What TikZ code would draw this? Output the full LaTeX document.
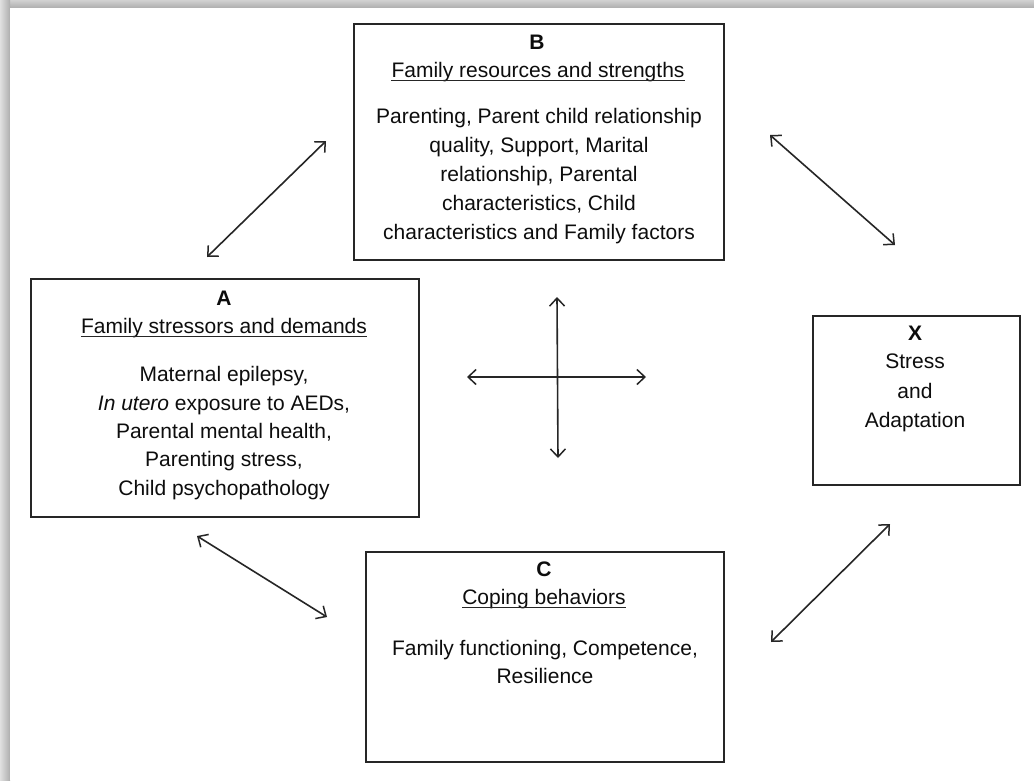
\documentclass[tikz,border=0pt]{standalone}
\usepackage{fontspec}
\setmainfont{Liberation Sans}
\usetikzlibrary{arrows.meta}
\tikzset{
  box/.style={draw=black!85, line width=1.8pt, inner sep=0pt, anchor=north west},
  txt/.style={inner sep=0pt, align=center, text=black!95, font=\fontsize{21}{29}\selectfont},
  ttl/.style={inner sep=0pt, text=black!95, font=\fontsize{21}{29}\selectfont\bfseries},
  hd/.style={inner sep=0pt, text=black!95, font=\fontsize{21}{29}\selectfont},
  ul/.style={line width=1.1pt, draw=black!85},
  link/.style={line width=1.6pt, draw=black!85, {Straight Barb[length=8pt,width=15pt,line width=1.5pt]}-{Straight Barb[length=8pt,width=15pt,line width=1.5pt]}}
}
\begin{document}
\begin{tikzpicture}[x=1pt,y=-1pt]
\useasboundingbox (0,0) rectangle (1034,780);
\fill[white] (0,0) rectangle (1034,780);
% page shadow
\shade[top color=black!18, bottom color=black!32] (0,0) rectangle (1034,8);
\shade[left color=black!12, right color=black!32] (0,0) rectangle (10,780);
\fill[white] (10,8) rectangle (1034,780);

% boxes
\node[box, minimum width=370pt, minimum height=236pt] (B) at (353,23) {};
\node[box, minimum width=388pt, minimum height=238pt] (A) at (30,278) {};
\node[box, minimum width=207pt, minimum height=169pt] (X) at (812,315) {};
\node[box, minimum width=358pt, minimum height=210pt] (C) at (365,551) {};

% B texts
\node[ttl] (Bt) at (537,42) {B};
\node[hd] (Bh) at (538,72) {Family resources and strengths};
\draw[ul] ([yshift=-3pt]Bh.base west) -- ([yshift=-3pt]Bh.base east);
\node[txt] (Bb) at (539,176) {Parenting, Parent child relationship\\quality, Support, Marital\\relationship, Parental\\characteristics, Child\\characteristics and Family factors};

% A texts
\node[ttl] (At) at (224,298) {A};
\node[hd] (Ah) at (224,328) {Family stressors and demands};
\draw[ul] ([yshift=-3pt]Ah.base west) -- ([yshift=-3pt]Ah.base east);
\node[txt, font=\fontsize{21}{28.3}\selectfont] (Ab) at (224,433) {Maternal epilepsy,\\\textit{In utero} exposure to AEDs,\\Parental mental health,\\Parenting stress,\\Child psychopathology};

% X texts
\node[ttl] (Xt) at (915,333) {X};
\node[txt, font=\fontsize{21}{29.5}\selectfont] (Xb) at (915,393) {Stress\\and\\Adaptation};

% C texts
\node[ttl] (Ct) at (544,569) {C};
\node[hd] (Ch) at (544,599) {Coping behaviors};
\draw[ul] ([yshift=-3pt]Ch.base west) -- ([yshift=-3pt]Ch.base east);
\node[txt, font=\fontsize{21}{28}\selectfont] (Cb) at (545,662) {Family functioning, Competence,\\Resilience};

% arrow end points
\coordinate (ab1) at (207,257);
\coordinate (ab2) at (326,141);
\coordinate (bx1) at (770,135);
\coordinate (bx2) at (895,245);
\coordinate (ac1) at (197,536);
\coordinate (ac2) at (327,617);
\coordinate (cx1) at (771,642);
\coordinate (cx2) at (890,524);
\coordinate (hl) at (467,377);
\coordinate (hr) at (646,377);
\coordinate (vt) at (557,297);
\coordinate (vb) at (558,458);

\draw[link] (ab1) -- (ab2);
\draw[link] (bx1) -- (bx2);
\draw[link] (ac1) -- (ac2);
\draw[link] (cx1) -- (cx2);
\draw[link] (hl) -- (hr);
\draw[link] (vt) -- (vb);
\end{tikzpicture}
\end{document}
